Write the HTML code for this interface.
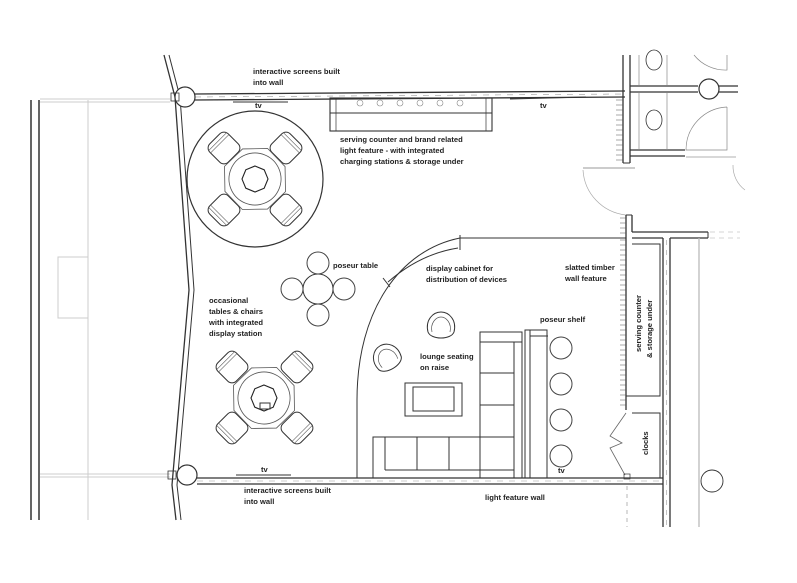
<!DOCTYPE html>
<html><head><meta charset="utf-8"><style>
html,body{margin:0;padding:0;background:#fff;}
svg{display:block}
text{font-family:"Liberation Sans",sans-serif;font-size:7.6px;font-weight:bold;fill:#222;}
</style></head><body>
<svg width="797" height="583" viewBox="0 0 797 583" xmlns="http://www.w3.org/2000/svg">
<defs>
<g id="chair">
<rect x="-13" y="-13" width="26" height="26" rx="6" fill="#fff" stroke="#333" stroke-width="1"/>
<line x1="-13" y1="-6" x2="13" y2="-6" stroke="#555" stroke-width="0.6"/>
<line x1="-13" y1="-9" x2="13" y2="-9" stroke="#555" stroke-width="0.6"/>
</g>
<g id="oct">
<polygon points="0,-33 23,-23 33,0 23,23 0,33 -23,23 -33,0 -23,-23" fill="#fff" stroke="#555" stroke-width="0.8"/>
<circle r="26" fill="none" stroke="#555" stroke-width="0.8"/>
<polygon points="-5,-12 5,-12 12,-5 12,5 5,12 -5,12 -12,5 -12,-5" fill="none" stroke="#222" stroke-width="1.1"/>
</g>
<g id="stool"><circle r="11" fill="#fff" stroke="#444" stroke-width="1"/></g>
<g id="lchair">
<path d="M-13,6 C-16,-6 -8,-14 0,-14 C8,-14 16,-6 13,6 C10,14 -10,14 -13,6 Z" fill="#fff" stroke="#333" stroke-width="1"/>
<path d="M-9,6 C-11,-3 -5,-9 0,-9 C5,-9 11,-3 9,6" fill="none" stroke="#555" stroke-width="0.7"/>
</g>
</defs>
<g fill="none" stroke="#333">
<line x1="31" y1="100" x2="31" y2="520" stroke-width="1.5"/>
<line x1="39" y1="100" x2="39" y2="520" stroke-width="1.5"/>
<line x1="40" y1="99" x2="170" y2="99" stroke="#ccc"/>
<line x1="40" y1="102" x2="170" y2="102" stroke="#ccc"/>
<line x1="40" y1="474" x2="170" y2="474" stroke="#ccc"/>
<line x1="40" y1="477" x2="170" y2="477" stroke="#ccc"/>
<line x1="88" y1="100" x2="88" y2="520" stroke="#ccc"/>
<rect x="58" y="257" width="30" height="61" stroke="#ccc"/>
<path d="M164,55 L175,97 L189,290 L172,485 L176,520" stroke-width="1.3"/>
<path d="M169,55 L180,97 L194,290 L177,485 L181,520" stroke-width="1"/>
<line x1="195" y1="94" x2="625" y2="91" stroke-width="1.3"/>
<line x1="195" y1="100" x2="625" y2="97" stroke-width="1.3"/>
<line x1="195" y1="97" x2="625" y2="94" stroke="#999" stroke-dasharray="6,6" stroke-width="0.6"/>
<circle cx="185" cy="97" r="10" fill="#fff" stroke-width="1.2"/>
<rect x="171" y="93" width="8" height="8" stroke-width="0.8"/>
<line x1="233" y1="102" x2="288" y2="102" stroke-width="1"/>
<line x1="510" y1="99" x2="586" y2="97" stroke-width="1"/>
<line x1="623" y1="55" x2="623" y2="163" stroke-width="1.3"/>
<line x1="630" y1="55" x2="630" y2="163" stroke-width="1.3"/>
<line x1="623" y1="163" x2="630" y2="163"/>
<line x1="630" y1="86" x2="698" y2="86" stroke-width="1.3"/>
<line x1="630" y1="92" x2="698" y2="92" stroke-width="1.3"/>
<line x1="719" y1="86" x2="738" y2="86" stroke-width="1.3"/>
<line x1="719" y1="92" x2="738" y2="92" stroke-width="1.3"/>
<circle cx="709" cy="89" r="10" fill="#fff" stroke-width="1.2"/>
<line x1="630" y1="150" x2="685" y2="150" stroke-width="1.3"/>
<line x1="630" y1="156" x2="685" y2="156" stroke-width="1.3"/>
<line x1="639" y1="55" x2="639" y2="85" stroke="#888" stroke-width="0.7"/>
<line x1="667" y1="55" x2="667" y2="85" stroke="#888" stroke-width="0.7"/>
<line x1="639" y1="93" x2="639" y2="150" stroke="#888" stroke-width="0.7"/>
<line x1="667" y1="93" x2="667" y2="150" stroke="#888" stroke-width="0.7"/>
<ellipse cx="654" cy="60" rx="8" ry="10" stroke-width="0.8"/>
<ellipse cx="654" cy="120" rx="8" ry="10" stroke-width="0.8"/>
<path d="M727,107 L727,150 L686,150 A43,43 0 0 1 727,107" stroke="#888" stroke-width="0.7"/>
<path d="M727,55 L727,70 A40,40 0 0 1 694,55" stroke="#888" stroke-width="0.7"/>
<line x1="686" y1="157" x2="736" y2="157" stroke="#999" stroke-width="0.7"/>
<path d="M733,165 A30,30 0 0 0 745,190" stroke="#aaa" stroke-width="0.7"/>
<line x1="583" y1="168" x2="635" y2="168" stroke="#777" stroke-width="0.8"/>
<path d="M583,170 A48,48 0 0 0 626,215" stroke="#aaa" stroke-width="0.7"/>
<line x1="626" y1="215" x2="626" y2="410" stroke-width="1.3"/>
<line x1="632" y1="215" x2="632" y2="232" stroke-width="1.3"/>
<line x1="626" y1="215" x2="632" y2="215"/>
<line x1="632" y1="232" x2="708" y2="232" stroke-width="1.3"/>
<line x1="632" y1="238" x2="663" y2="238" stroke-width="1.3"/>
<line x1="708" y1="232" x2="708" y2="238"/>
<line x1="670" y1="238" x2="708" y2="238" stroke-width="1.3"/>
<line x1="710" y1="232" x2="740" y2="232" stroke="#aaa" stroke-dasharray="5,4" stroke-width="0.6"/>
<line x1="710" y1="238" x2="740" y2="238" stroke="#aaa" stroke-dasharray="5,4" stroke-width="0.6"/>
<line x1="663" y1="238" x2="663" y2="527" stroke-width="1.3"/>
<line x1="670" y1="238" x2="670" y2="527" stroke-width="1.3"/>
<line x1="666.5" y1="240" x2="666.5" y2="527" stroke="#999" stroke-dasharray="5,5" stroke-width="0.6"/>
<line x1="699" y1="238" x2="699" y2="527" stroke="#bbb" stroke-width="1.3"/>
<circle cx="712" cy="481" r="11" stroke-width="0.9"/>
<path d="M620,240 h6 M620,245 h6 M620,250 h6 M620,255 h6 M620,260 h6 M620,265 h6 M620,270 h6 M620,275 h6 M620,280 h6 M620,285 h6 M620,290 h6 M620,295 h6 M620,300 h6 M620,305 h6 M620,310 h6 M620,315 h6 M620,320 h6 M620,325 h6 M620,330 h6 M620,335 h6 M620,340 h6 M620,345 h6 M620,350 h6 M620,355 h6 M620,360 h6 M620,365 h6 M620,370 h6 M620,375 h6 M620,380 h6 M620,385 h6 M620,390 h6 M620,395 h6 M620,400 h6 M620,405 h6" stroke="#555" stroke-width="0.6"/>
<path d="M616,100 h7 M616,105 h7 M616,110 h7 M616,115 h7 M616,120 h7 M616,125 h7 M616,130 h7 M616,135 h7 M616,140 h7 M616,145 h7 M616,150 h7 M616,155 h7 M616,160 h7" stroke="#555" stroke-width="0.6"/>
<path d="M620,218 h6 M620,223 h6 M620,228 h6 M620,233 h6" stroke="#555" stroke-width="0.6"/>
<polyline points="632,244 660,244 660,396 632,396" stroke-width="1"/>
<polyline points="632,413 660,413 660,478" stroke-width="1"/>
<line x1="626" y1="396" x2="632" y2="396"/>
<polyline points="626,413 610,436 622,443 610,448 625,475" stroke="#666" stroke-width="0.8"/>
<rect x="624" y="474" width="6" height="5" stroke-width="0.7"/>
<line x1="197" y1="478" x2="663" y2="478" stroke-width="1.3"/>
<line x1="197" y1="484" x2="663" y2="484" stroke-width="1.3"/>
<line x1="197" y1="481" x2="663" y2="481" stroke="#999" stroke-dasharray="6,6" stroke-width="0.6"/>
<circle cx="187" cy="475" r="10" fill="#fff" stroke-width="1.2"/>
<rect x="168" y="471" width="8" height="8" stroke-width="0.8"/>
<line x1="236" y1="475" x2="291" y2="475" stroke-width="1"/>
<line x1="627" y1="486" x2="627" y2="527" stroke="#999" stroke-dasharray="4,4" stroke-width="0.7"/>
<rect x="330" y="98" width="162" height="33" stroke-width="1.1"/>
<line x1="330" y1="113" x2="492" y2="113" stroke-width="0.9"/>
<line x1="336" y1="98" x2="336" y2="131" stroke-width="0.7"/>
<line x1="486" y1="98" x2="486" y2="131" stroke-width="0.7"/>
<circle cx="360" cy="103" r="3" stroke="#888" stroke-width="0.6"/>
<circle cx="380" cy="103" r="3" stroke="#888" stroke-width="0.6"/>
<circle cx="400" cy="103" r="3" stroke="#888" stroke-width="0.6"/>
<circle cx="420" cy="103" r="3" stroke="#888" stroke-width="0.6"/>
<circle cx="440" cy="103" r="3" stroke="#888" stroke-width="0.6"/>
<circle cx="460" cy="103" r="3" stroke="#888" stroke-width="0.6"/>
<circle cx="255" cy="179" r="68" stroke-width="1.2"/>
<use href="#chair" transform="translate(224,148) rotate(-45)"/>
<use href="#chair" transform="translate(286,148) rotate(45)"/>
<use href="#chair" transform="translate(224,210) rotate(-135)"/>
<use href="#chair" transform="translate(286,210) rotate(135)"/>
<use href="#oct" transform="translate(255,179) rotate(22.5)"/>
<circle cx="318" cy="289" r="15" stroke-width="1"/>
<use href="#stool" transform="translate(318,263)"/>
<use href="#stool" transform="translate(318,315)"/>
<use href="#stool" transform="translate(292,289)"/>
<use href="#stool" transform="translate(344,289)"/>
<use href="#chair" transform="translate(232,367) rotate(-45)"/>
<use href="#chair" transform="translate(297,367) rotate(45)"/>
<use href="#chair" transform="translate(232,428) rotate(-135)"/>
<use href="#chair" transform="translate(297,428) rotate(135)"/>
<use href="#oct" transform="translate(264,398) rotate(22.5)"/>
<rect x="260" y="403" width="10" height="6" stroke-width="1"/>
<line x1="460" y1="238" x2="626" y2="238" stroke-width="1"/>
<line x1="460" y1="235" x2="460" y2="250" stroke-width="1"/>
<path d="M460,238 C400,250 357,310 357,400 L357,478" stroke-width="1"/>
<path d="M458,248 Q420,254 388,282" stroke-width="1"/>
<line x1="383" y1="278" x2="390" y2="287" stroke-width="1"/>
<use href="#lchair" transform="translate(387,358) rotate(-30)"/>
<use href="#lchair" transform="translate(441,326)"/>
<rect x="405" y="383" width="57" height="33" stroke-width="1"/>
<rect x="413" y="387" width="41" height="24" stroke-width="1"/>
<rect x="480" y="332" width="42" height="146" stroke-width="1"/>
<line x1="480" y1="342" x2="522" y2="342"/>
<line x1="514" y1="342" x2="514" y2="478"/>
<line x1="480" y1="373" x2="514" y2="373"/>
<line x1="480" y1="405" x2="514" y2="405"/>
<line x1="480" y1="437" x2="514" y2="437"/>
<rect x="373" y="437" width="107" height="41" stroke-width="1"/>
<line x1="385" y1="437" x2="385" y2="470"/>
<line x1="385" y1="470" x2="514" y2="470"/>
<line x1="417" y1="437" x2="417" y2="470"/>
<line x1="449" y1="437" x2="449" y2="470"/>
<rect x="525" y="330" width="22" height="148" stroke-width="1"/>
<line x1="530" y1="336" x2="548" y2="336"/>
<line x1="530" y1="330" x2="530" y2="478"/>
<use href="#stool" transform="translate(561,348)"/>
<use href="#stool" transform="translate(561,384)"/>
<use href="#stool" transform="translate(561,420)"/>
<use href="#stool" transform="translate(561,456)"/>
</g>
<g>
<text x="253" y="74">interactive screens built</text>
<text x="253" y="85">into wall</text>
<text x="255" y="108" font-size="6">tv</text>
<text x="540" y="108" font-size="6">tv</text>
<text x="340" y="142">serving counter and brand related</text>
<text x="340" y="153">light feature - with integrated</text>
<text x="340" y="164">charging stations &amp; storage under</text>
<text x="333" y="268">poseur table</text>
<text x="426" y="271">display cabinet for</text>
<text x="426" y="282">distribution of devices</text>
<text x="565" y="270">slatted timber</text>
<text x="565" y="281">wall feature</text>
<text x="540" y="322">poseur shelf</text>
<text x="420" y="359">lounge seating</text>
<text x="420" y="370">on raise</text>
<text x="209" y="303">occasional</text>
<text x="209" y="314">tables &amp; chairs</text>
<text x="209" y="325">with integrated</text>
<text x="209" y="336">display station</text>
<text x="261" y="472" font-size="6">tv</text>
<text x="558" y="473" font-size="6">tv</text>
<text x="244" y="493">interactive screens built</text>
<text x="244" y="504">into wall</text>
<text x="485" y="500">light feature wall</text>
<text transform="translate(641,352) rotate(-90)">serving counter</text>
<text transform="translate(652,358) rotate(-90)">&amp; storage under</text>
<text transform="translate(648,455) rotate(-90)">clocks</text>
</g>
</svg>
</body></html>
